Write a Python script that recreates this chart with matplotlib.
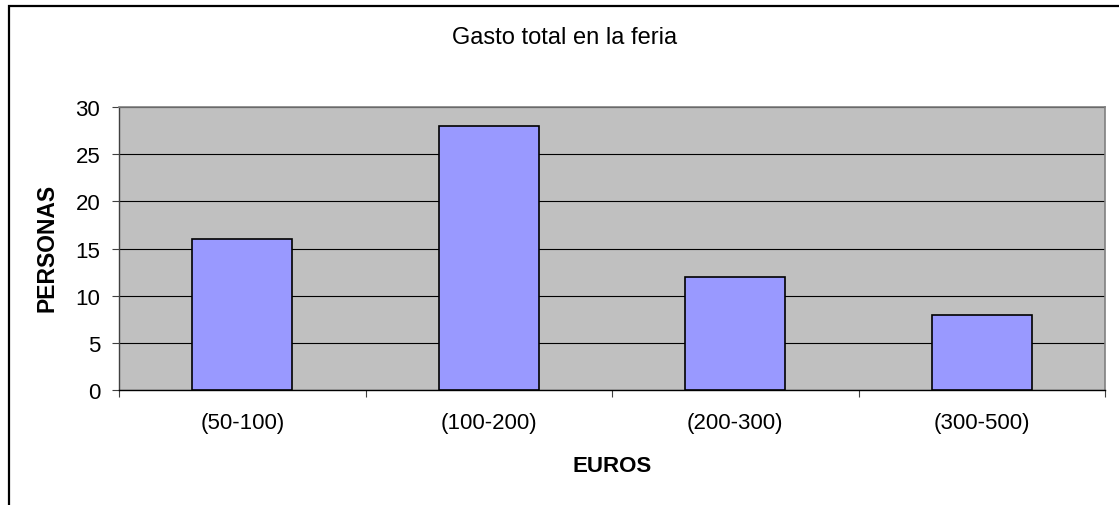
import matplotlib
matplotlib.use("Agg")
import matplotlib.pyplot as plt
from matplotlib.patches import Rectangle
import numpy as np

categories = ["(50-100)", "(100-200)", "(200-300)", "(300-500)"]
values = [16, 28, 12, 8]
title = "Gasto total en la feria"
xlabel = "EUROS"
ylabel = "PERSONAS"

plt.rcParams['font.family'] = ['Liberation Sans', 'DejaVu Sans']

W, H = 1119, 506
fig = plt.figure(figsize=(W / 100, H / 100), dpi=100)
fig.patch.set_facecolor("white")

# outer chart border
fig.patches.append(Rectangle((9 / W, -0.1), 1.2, 1.1 - 7 / H, transform=fig.transFigure,
                             fill=False, edgecolor="black", linewidth=1.6))

ax = fig.add_axes([119 / W, 115 / H, (1105 - 119) / W, (391 - 108) / H])
ax.set_facecolor("#c0c0c0")

x = np.arange(len(categories))
ax.bar(x, values, width=0.405, color="#9999ff", edgecolor="black", linewidth=1.2, zorder=3)

ax.set_xlim(-0.5, len(categories) - 0.5)
ax.set_ylim(0, 30)
ax.set_yticks(range(0, 31, 5))
ax.yaxis.grid(True, color="black", linewidth=0.8, zorder=1)
ax.set_axisbelow(True)

ax.set_xticks(x)
ax.set_xticklabels(categories, fontsize=16)
ax.set_xticks(np.arange(-0.5, len(categories), 1), minor=True)
ax.tick_params(axis="x", which="major", length=0, pad=16)
ax.tick_params(axis="x", which="minor", length=5, width=0.8, direction="out", color="#404040")
ax.tick_params(axis="y", length=5, width=0.8, labelsize=16, pad=8.5, color="#404040")

for s in ["top", "right"]:
    ax.spines[s].set_color("#808080")
    ax.spines[s].set_linewidth(1.2)
ax.spines["left"].set_color("#404040")
ax.spines["left"].set_linewidth(1.0)
ax.spines["bottom"].set_color("black")
ax.spines["bottom"].set_linewidth(1.0)

fig.text(565 / W, 1 - 38 / H, title, ha="center", va="center", fontsize=17)
fig.text(612 / W, 1 - 467 / H, xlabel, ha="center", va="center", fontsize=16, fontweight="bold")
fig.text(47 / W, 1 - 248 / H, ylabel, ha="center", va="center", fontsize=16.5,
         fontweight="bold", rotation=90)

fig.savefig("out.png", dpi=100)
